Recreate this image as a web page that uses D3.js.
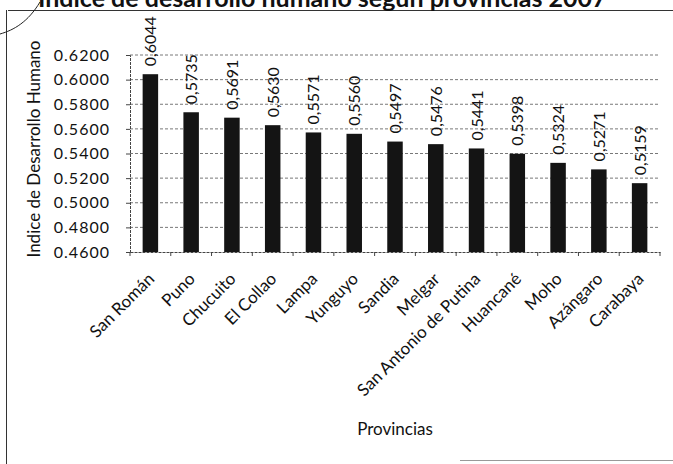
<!DOCTYPE html>
<html>
<head>
<meta charset="utf-8">
<script src="https://cdn.jsdelivr.net/npm/d3@7"></script>
<style>
  body { margin: 0; background: #fff; }
  svg { display: block; }
  text { font-family: Lato, "Open Sans", sans-serif; fill: #111; }
</style>
</head>
<body>
<svg id="svg-canvas" width="673" height="464"></svg>
<script>
const provincias = ["San Román", "Puno", "Chucuito", "El Collao", "Lampa", "Yunguyo", "Sandia",
  "Melgar", "San Antonio de Putina", "Huancané", "Moho", "Azángaro", "Carabaya"];
const idh = [0.6044, 0.5735, 0.5691, 0.5630, 0.5571, 0.5560, 0.5497, 0.5476, 0.5441, 0.5398, 0.5324, 0.5271, 0.5159];
const yTicks = [0.46, 0.48, 0.50, 0.52, 0.54, 0.56, 0.58, 0.60, 0.62];

const svg = d3.select('#svg-canvas');

const plotLeft = 130, plotRight = 660, plotTop = 55, plotBottom = 252;

const x = d3.scaleBand()
  .domain(provincias)
  .range([plotLeft, plotRight])
  .paddingInner(0.62)
  .paddingOuter(0.31);

const y = d3.scaleLinear()
  .domain([0.46, 0.62])
  .range([plotBottom, plotTop]);

// scanned page frame
svg.append('line')
  .attr('x1', 8).attr('x2', 673).attr('y1', 10.5).attr('y2', 10.5)
  .attr('stroke', '#333').attr('stroke-width', 1);
svg.append('line')
  .attr('x1', 6.5).attr('x2', 6.5).attr('y1', 10).attr('y2', 464)
  .attr('stroke', '#333').attr('stroke-width', 1);
svg.append('line')
  .attr('x1', 460).attr('x2', 673).attr('y1', 460.5).attr('y2', 460.5)
  .attr('stroke', '#999').attr('stroke-width', 1);
svg.append('path')
  .attr('d', 'M0,34 C14,30 28,22 40,2')
  .attr('fill', 'none').attr('stroke', '#222').attr('stroke-width', 1);

// title (cut off at the top of the scan)
svg.append('text')
  .attr('x', 38)
  .attr('y', 7)
  .attr('font-family', 'Liberation Sans, Arial, sans-serif')
  .attr('font-weight', 'bold')
  .attr('font-size', 25)
  .text('Índice de desarrollo humano según provincias 2007');

// gridlines
svg.append('g')
  .selectAll('line')
  .data(yTicks.slice(1))
  .join('line')
  .attr('x1', plotLeft).attr('x2', plotRight)
  .attr('y1', d => y(d)).attr('y2', d => y(d))
  .attr('stroke', '#555')
  .attr('stroke-width', 0.8)
  .attr('stroke-dasharray', '3,2');

// y axis
const yAxis = svg.append('g')
  .attr('transform', `translate(${plotLeft},0)`)
  .call(d3.axisLeft(y).tickValues(yTicks).tickFormat(d3.format('.4f')).tickSize(4).tickPadding(16));
yAxis.select('.domain').attr('stroke', '#444').attr('stroke-dasharray', '3,1');
yAxis.selectAll('.tick line').attr('stroke', '#444');
yAxis.selectAll('text')
  .attr('font-size', 16)
  .attr('letter-spacing', 1)
  .attr('font-family', 'Lato, sans-serif')
  .attr('fill', '#111');

// x axis
const xAxis = svg.append('g')
  .attr('transform', `translate(0,${plotBottom})`)
  .call(d3.axisBottom(x).tickSize(0).tickFormat(''));
xAxis.select('.domain').attr('stroke', '#444').attr('stroke-dasharray', '3,1');

// tick marks between categories
svg.append('g')
  .selectAll('line')
  .data(d3.range(provincias.length + 1))
  .join('line')
  .attr('x1', i => plotLeft + i * x.step())
  .attr('x2', i => plotLeft + i * x.step())
  .attr('y1', plotBottom).attr('y2', plotBottom + 4)
  .attr('stroke', '#444');

// bars
svg.append('g')
  .selectAll('rect')
  .data(idh)
  .join('rect')
  .attr('x', (d, i) => x(provincias[i]))
  .attr('y', d => y(d))
  .attr('width', x.bandwidth())
  .attr('height', d => plotBottom - y(d))
  .attr('fill', '#141414');

// value labels
const fmt = d3.format('.4f');
svg.append('g')
  .selectAll('text')
  .data(idh)
  .join('text')
  .attr('transform', (d, i) => `translate(${x(provincias[i]) + x.bandwidth() / 2 + 6},${y(d) - 8}) rotate(-90)`)
  .attr('font-size', 16)
  .text(d => fmt(d).replace('.', ','));

// category labels
svg.append('g')
  .selectAll('text')
  .data(provincias)
  .join('text')
  .attr('transform', d => `translate(${x(d) + x.bandwidth() / 2 + 5},${plotBottom + 28}) rotate(-45)`)
  .attr('text-anchor', 'end')
  .attr('font-size', 17)
  .text(d => d);

// axis titles
svg.append('text')
  .attr('transform', `translate(40,149) rotate(-90)`)
  .attr('text-anchor', 'middle')
  .attr('font-size', 17)
  .text('Indice de Desarrollo Humano');

svg.append('text')
  .attr('x', (plotLeft + plotRight) / 2)
  .attr('y', 435)
  .attr('text-anchor', 'middle')
  .attr('font-size', 17)
  .text('Provincias');
</script>
</body>
</html>
